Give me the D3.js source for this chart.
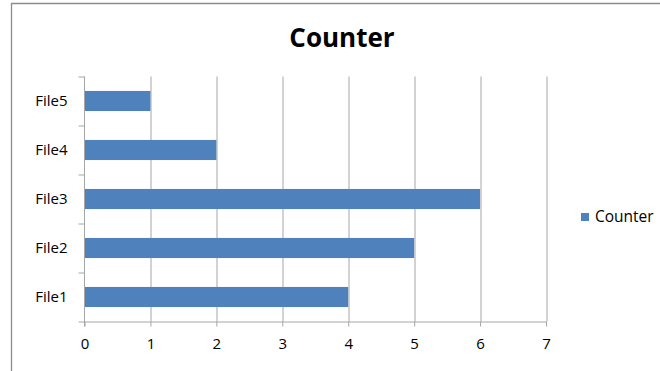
<!DOCTYPE html>
<html>
<head>
<meta charset="utf-8">
<script src="https://cdn.jsdelivr.net/npm/d3@7/dist/d3.min.js"></script>
<style>
  body { margin: 0; background: #fff; }
  text { font-family: "Open Sans", "Noto Sans", sans-serif; fill: #000; }
</style>
</head>
<body>
<svg width="660" height="371"></svg>
<script>
// data
const files = ["File1", "File2", "File3", "File4", "File5"];
const counts = [4, 5, 6, 2, 1];
const xTicks = [0, 1, 2, 3, 4, 5, 6, 7];
const seriesName = "Counter";

const svg = d3.select("svg");
const margin = {top: 76.5, left: 84.5, right: 114, bottom: 49.5};
const width = +svg.attr("width");
const height = +svg.attr("height");
const innerWidth = width - margin.left - margin.right;
const innerHeight = height - margin.top - margin.bottom;

// chart frame (only top and left edges are visible in the picture)
svg.append("path")
  .attr("d", `M11.5,${height}V3.5H${width}`)
  .attr("fill", "none")
  .attr("stroke", "#8c8c8c")
  .attr("stroke-width", 1.3);

svg.append("text")
  .attr("x", 342).attr("y", 47)
  .attr("text-anchor", "middle")
  .style("font-size", "26px")
  .style("font-weight", "bold")
  .text(seriesName);

const g = svg.append("g").attr("transform", `translate(${margin.left},${margin.top})`);

const xScale = d3.scaleLinear().domain([0, 7]).range([0, innerWidth]);
// File1 at the bottom
const yScale = d3.scaleBand().domain(files.slice().reverse()).range([0, innerHeight])
  .paddingInner(0.59).paddingOuter(0.295);

// gridlines
g.selectAll(".grid")
  .data(xTicks.slice(1))
  .enter()
  .append("line")
  .attr("class", "grid")
  .attr("x1", d => Math.round(xScale(d)) + 0.5)
  .attr("x2", d => Math.round(xScale(d)) + 0.5)
  .attr("y1", 0).attr("y2", innerHeight)
  .attr("stroke", "#a6a6a6");

// bars
g.selectAll(".bar")
  .data(files)
  .enter()
  .append("rect")
  .attr("class", "bar")
  .attr("x", xScale(0))
  .attr("y", d => yScale(d))
  .attr("width", (d, i) => xScale(counts[i]) - xScale(0))
  .attr("height", yScale.bandwidth())
  .attr("fill", "#4f81bd");

// x axis
const xAxis = d3.axisBottom(xScale).tickValues(xTicks).tickFormat(d3.format("d"))
  .tickSize(5).tickPadding(12).tickSizeOuter(0);
const xg = g.append("g").attr("transform", `translate(0,${innerHeight})`).call(xAxis);
xg.select(".domain").attr("stroke", "#a6a6a6");
xg.selectAll(".tick line").attr("stroke", "#a6a6a6");
xg.selectAll(".tick text").style("font-size", "15px");

// y axis: ticks sit on category boundaries
const yg = g.append("g");
yg.append("line")
  .attr("x1", 0).attr("x2", 0).attr("y1", 0).attr("y2", innerHeight + 5)
  .attr("stroke", "#a6a6a6");
const step = innerHeight / files.length;
yg.selectAll(".ytick")
  .data(d3.range(files.length + 1))
  .enter()
  .append("line")
  .attr("class", "ytick")
  .attr("x1", -6).attr("x2", 0)
  .attr("y1", d => Math.round(d * step) + 0.5)
  .attr("y2", d => Math.round(d * step) + 0.5)
  .attr("stroke", "#a6a6a6");
yg.selectAll(".ylabel")
  .data(files)
  .enter()
  .append("text")
  .attr("class", "ylabel")
  .attr("x", -17)
  .attr("y", d => yScale(d) + yScale.bandwidth() / 2)
  .attr("dy", "0.35em")
  .attr("text-anchor", "end")
  .style("font-size", "15px")
  .text(d => d);

// legend
const legend = svg.append("g").attr("transform", "translate(581,213)");
legend.append("rect").attr("width", 8).attr("height", 8).attr("fill", "#4f81bd");
legend.append("text")
  .attr("x", 14).attr("y", 4).attr("dy", "0.35em")
  .style("font-size", "15.5px")
  .text(seriesName);
</script>
</body>
</html>
